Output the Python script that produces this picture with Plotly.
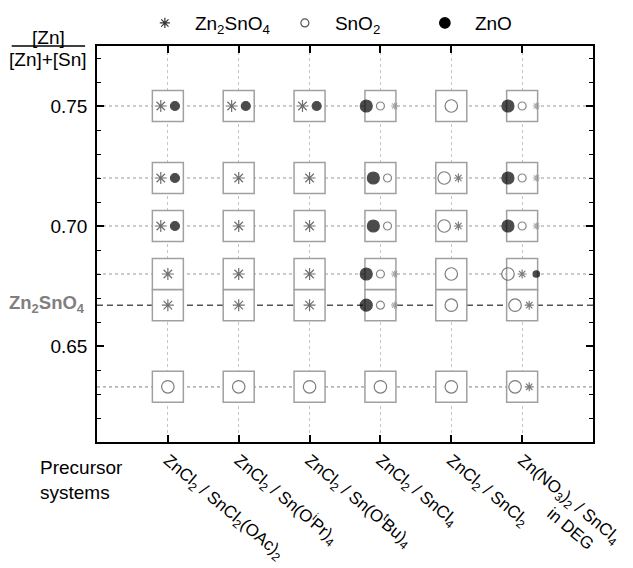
import plotly.graph_objects as go

# ---------------- data ----------------
precursors = [
    "ZnCl<sub>2</sub> / SnCl<sub>2</sub>(OAc)<sub>2</sub>",
    "ZnCl<sub>2</sub> / Sn(O<sup>i</sup>Pr)<sub>4</sub>",
    "ZnCl<sub>2</sub> / Sn(O<sup>t</sup>Bu)<sub>4</sub>",
    "ZnCl<sub>2</sub> / SnCl<sub>4</sub>",
    "ZnCl<sub>2</sub> / SnCl<sub>2</sub>",
    "Zn(NO<sub>3</sub>)<sub>2</sub> / SnCl<sub>4</sub><br>" + "\u00a0" * 12 + "in DEG",
]
ratios = [0.75, 0.72, 0.70, 0.68, 0.667, 0.633]
zn2sno4_ratio = 0.667
phase_names = ["Zn2SnO4", "SnO2", "ZnO"]
phase_labels = ["Zn<sub>2</sub>SnO<sub>4</sub>", "SnO<sub>2</sub>", "ZnO"]

# phases found per ratio (same order as ratios), left to right, with amount L/M/S
cells_zncl2_snoac = [
    [("Zn2SnO4", "L"), ("ZnO", "M")],
    [("Zn2SnO4", "L"), ("ZnO", "M")],
    [("Zn2SnO4", "L"), ("ZnO", "M")],
    [("Zn2SnO4", "L")],
    [("Zn2SnO4", "L")],
    [("SnO2", "L")],
]
cells_zncl2_snoipr = [
    [("Zn2SnO4", "L"), ("ZnO", "M")],
    [("Zn2SnO4", "L")],
    [("Zn2SnO4", "L")],
    [("Zn2SnO4", "L")],
    [("Zn2SnO4", "L")],
    [("SnO2", "L")],
]
cells_zncl2_snotbu = [
    [("Zn2SnO4", "L"), ("ZnO", "M")],
    [("Zn2SnO4", "L")],
    [("Zn2SnO4", "L")],
    [("Zn2SnO4", "L")],
    [("Zn2SnO4", "L")],
    [("SnO2", "L")],
]
cells_zncl2_sncl4 = [
    [("ZnO", "L"), ("SnO2", "M"), ("Zn2SnO4", "S")],
    [("ZnO", "L"), ("SnO2", "M")],
    [("ZnO", "L"), ("SnO2", "M")],
    [("ZnO", "L"), ("SnO2", "M"), ("Zn2SnO4", "S")],
    [("ZnO", "L"), ("SnO2", "M"), ("Zn2SnO4", "S")],
    [("SnO2", "L")],
]
cells_zncl2_sncl2 = [
    [("SnO2", "L")],
    [("SnO2", "L"), ("Zn2SnO4", "M")],
    [("SnO2", "L"), ("Zn2SnO4", "M")],
    [("SnO2", "L")],
    [("SnO2", "L")],
    [("SnO2", "L")],
]
cells_znno3_sncl4 = [
    [("ZnO", "L"), ("SnO2", "M"), ("Zn2SnO4", "S")],
    [("ZnO", "L"), ("SnO2", "M"), ("Zn2SnO4", "S")],
    [("ZnO", "L"), ("SnO2", "M"), ("Zn2SnO4", "S")],
    [("SnO2", "L"), ("Zn2SnO4", "M"), ("ZnO", "S")],
    [("SnO2", "L"), ("Zn2SnO4", "M")],
    [("SnO2", "L"), ("Zn2SnO4", "M")],
]
all_cells = [cells_zncl2_snoac, cells_zncl2_snoipr, cells_zncl2_snotbu,
             cells_zncl2_sncl4, cells_zncl2_sncl2, cells_znno3_sncl4]

# ---------------- styles ----------------
FONT = "Arial, Liberation Sans, Helvetica, sans-serif"
style = {
    "Zn2SnO4": dict(symbol="asterisk-open", size={"L": 10, "M": 7.5, "S": 6},
                    color={"L": "#333333", "M": "#444444", "S": "#8a8a8a"}),
    "SnO2": dict(symbol="circle-open", size={"L": 12.5, "M": 8, "S": 6},
                 color={"L": "#444444", "M": "#555555", "S": "#666666"}),
    "ZnO": dict(symbol="circle", size={"L": 12, "M": 9, "S": 6.5},
                color={"L": "#000000", "M": "#000000", "S": "#000000"}),
}
offsets = {1: [0.0], 2: [-0.1, 0.1], 3: [-0.2, 0.0, 0.2]}
xs = list(range(1, len(precursors) + 1))

fig = go.Figure()

# boxes around each composition
bx, by = [], []
for i, col in enumerate(all_cells):
    for j, cell in enumerate(col):
        bx.append(xs[i])
        by.append(ratios[j])
fig.add_trace(go.Scatter(x=bx, y=by, mode="markers", showlegend=False, hoverinfo="skip",
                         marker=dict(symbol="square", size=31, color="white",
                                     line=dict(color="#a0a0a0", width=1.5))))

# phase markers
for ph in phase_names:
    px, py, ps, pc = [], [], [], []
    for i, col in enumerate(all_cells):
        for j, cell in enumerate(col):
            offs = offsets[len(cell)]
            for k, (name, amt) in enumerate(cell):
                if name == ph:
                    px.append(xs[i] + offs[k])
                    py.append(ratios[j])
                    ps.append(style[ph]["size"][amt])
                    pc.append(style[ph]["color"][amt])
    fig.add_trace(go.Scatter(x=px, y=py, mode="markers", showlegend=False,
                             marker=dict(symbol=style[ph]["symbol"], size=ps, color=pc,
                                         line=dict(width=1.2, color=pc))))

# legend entries
leg_sizes = {"Zn2SnO4": 8.5, "SnO2": 8, "ZnO": 10.5}
leg_colors = {"Zn2SnO4": "#333333", "SnO2": "#555555", "ZnO": "#000000"}
for ph, lab in zip(phase_names, phase_labels):
    fig.add_trace(go.Scatter(x=[None], y=[None], mode="markers", name=lab,
                             marker=dict(symbol=style[ph]["symbol"], size=leg_sizes[ph],
                                         color=leg_colors[ph],
                                         line=dict(width=1.2, color=leg_colors[ph]))))

# guide lines
for r in ratios:
    if r == zn2sno4_ratio:
        continue
    fig.add_shape(type="line", xref="paper", x0=0, x1=1, yref="y", y0=r, y1=r,
                  layer="below", line=dict(color="#9a9a9a", width=1.2, dash="dot"))
fig.add_shape(type="line", xref="paper", x0=0, x1=1, yref="y", y0=zn2sno4_ratio,
              y1=zn2sno4_ratio, layer="below", line=dict(color="#555555", width=1.5, dash="6px,4px"))

# title fraction and labels
fig.add_annotation(xref="paper", yref="paper", x=-0.097, y=1.022, text="[Zn]", showarrow=False,
                   xanchor="center", yanchor="middle", font=dict(size=19, color="black", family=FONT))
fig.add_annotation(xref="paper", yref="paper", x=-0.099, y=0.966, text="[Zn]+[Sn]", showarrow=False,
                   xanchor="center", yanchor="middle", font=dict(size=19, color="black", family=FONT))
fig.add_shape(type="line", xref="paper", yref="paper", x0=-0.172, x1=-0.024, y0=1.0, y1=1.0,
              line=dict(color="black", width=1.5))
fig.add_annotation(xref="paper", yref="y", x=-0.02, y=zn2sno4_ratio, yshift=1,
                   text="<b>Zn<sub>2</sub>SnO<sub>4</sub></b>", showarrow=False,
                   xanchor="right", yanchor="middle", font=dict(size=18.5, color="#7f7f7f", family=FONT))
fig.add_annotation(xref="paper", yref="paper", x=-0.118, y=-0.097, text="Precursor<br>systems",
                   showarrow=False, xanchor="left", yanchor="middle", align="left",
                   font=dict(size=19, color="black", family=FONT))

fig.update_xaxes(range=[0, 7], tickmode="array", tickvals=xs, ticktext=precursors,
                 tickangle=40, ticks="inside", ticklen=7, tickwidth=1.5, tickcolor="black",
                 showline=True, linecolor="black", linewidth=1.6, mirror="ticks",
                 showgrid=True, gridcolor="#c4c4c4", griddash="dot", gridwidth=1,
                 zeroline=False, automargin=False, ticklabelstandoff=0,
                 tickfont=dict(size=17, color="black", family=FONT))
fig.update_yaxes(range=[0.61, 0.775], tickmode="linear", tick0=0.65, dtick=0.05, tickformat=".2f",
                 ticks="inside", ticklen=7, tickwidth=1.5, tickcolor="black",
                 minor=dict(tickmode="linear", tick0=0.61, dtick=0.01, ticks="inside", ticklen=4,
                            tickwidth=1.2, tickcolor="black", showgrid=False),
                 showline=True, linecolor="black", linewidth=1.6, mirror="ticks",
                 showgrid=False, zeroline=False, ticklabelstandoff=4, automargin=False,
                 tickfont=dict(size=19, color="black", family=FONT))

fig.update_layout(
    width=625, height=560, margin=dict(l=89, r=40, t=38, b=126, autoexpand=False),
    plot_bgcolor="white", paper_bgcolor="white",
    font=dict(family=FONT, size=19, color="black"),
    legend=dict(orientation="h", xref="container", yref="container", x=0.203, y=0.973,
                xanchor="left", yanchor="middle",
                entrywidth=75, entrywidthmode="pixels", bgcolor="rgba(0,0,0,0)",
                font=dict(size=19, family=FONT, color="black"), itemwidth=50),
)

fig.write_html("out.html")
